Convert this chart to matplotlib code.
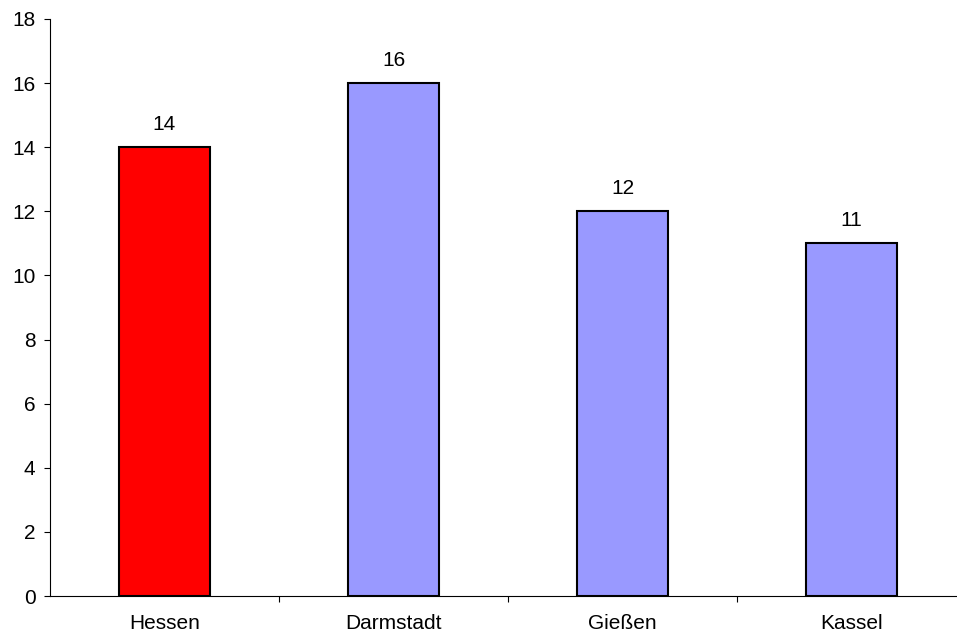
import matplotlib.pyplot as plt

regions = ["Hessen", "Darmstadt", "Gießen", "Kassel"]
values = [14, 16, 12, 11]
colors = ["#ff0000", "#9999ff", "#9999ff", "#9999ff"]

plt.rcParams['font.family'] = ['Liberation Sans', 'DejaVu Sans']

fig = plt.figure(figsize=(9.57, 6.34), dpi=100)
# axis runs past the right edge of the picture, like the original
ax = fig.add_axes([50 / 957, 38 / 634, 916 / 957, 577 / 634])

x = list(range(len(regions)))
ax.bar(x, values, width=0.4, color=colors, edgecolor='black', linewidth=1.5)

for xi, v in zip(x, values):
    ax.annotate(str(v), (xi, v), xytext=(0, 9.5), textcoords='offset points',
                ha='center', va='bottom', fontsize=15)

ax.set_xlim(-0.5, 3.5)
ax.set_ylim(0, 18)
ax.set_yticks(range(0, 19, 2))
ax.set_xticks([0.5, 1.5, 2.5], minor=False)
ax.set_xticklabels([])
ax.set_xticks(x, minor=True)
ax.set_xticklabels(regions, minor=True)
ax.tick_params(axis='x', which='major', length=4.5, direction='out')
ax.tick_params(axis='x', which='minor', length=0, pad=13, labelsize=15)
ax.tick_params(axis='y', length=4.5, pad=6, labelsize=15)

for side in ['top', 'right']:
    ax.spines[side].set_visible(False)

plt.savefig("out.png", dpi=100)
